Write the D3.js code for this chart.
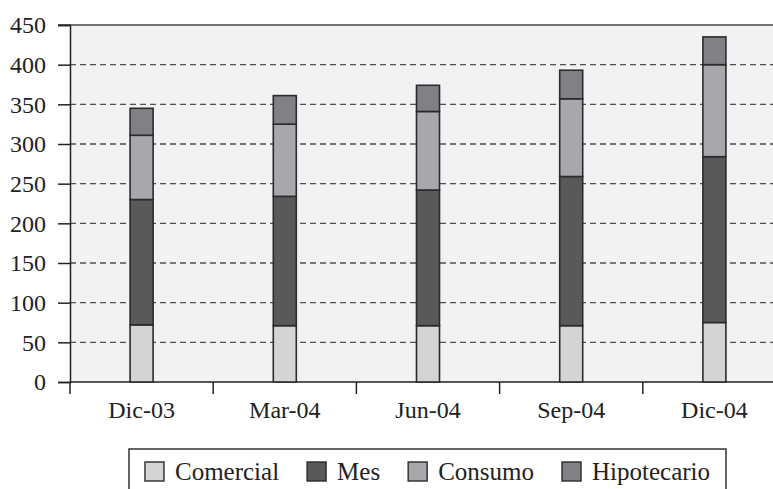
<!DOCTYPE html>
<html>
<head>
<meta charset="utf-8">
<script src="https://cdn.jsdelivr.net/npm/d3@7"></script>
<style>
  html, body { margin: 0; padding: 0; background: #ffffff; }
  svg { display: block; }
</style>
</head>
<body>
<script>
'use strict';

// chart data
const periods = ["Dic-03", "Mar-04", "Jun-04", "Sep-04", "Dic-04"];
const seriesNames = ["Comercial", "Mes", "Consumo", "Hipotecario"];
const comercial = [72, 71, 71, 71, 75];
const mes = [158, 163, 171, 188, 209];
const consumo = [81, 91, 99, 98, 116];
const hipotecario = [34, 36, 33, 36, 35];
const yTicks = [0, 50, 100, 150, 200, 250, 300, 350, 400, 450];

(function() {

  let svgContainer = "";
  const colors = ["#d3d4d6", "#58595b", "#a7a8ab", "#808184"];
  const font = "'Liberation Serif', 'Times New Roman', serif";

  window.onload = function() {
    svgContainer = d3.select('body')
      .append('svg')
      .attr('width', 773)
      .attr('height', 489);

    // build table for d3.stack
    let table = periods.map((p, i) => ({
      period: p,
      Comercial: comercial[i],
      Mes: mes[i],
      Consumo: consumo[i],
      Hipotecario: hipotecario[i]
    }));

    let map = drawAxes();
    plotData(table, map);
    makeLegend();
  }

  // background, gridlines and axes
  function drawAxes() {
    let xScale = d3.scaleBand()
      .domain(periods)
      .range([70, 786])
      .padding(0);

    let yScale = d3.scaleLinear()
      .domain([0, 450])
      .range([382, 25]);

    // plot area background
    svgContainer.append('rect')
      .attr('x', 70)
      .attr('y', yScale(450))
      .attr('width', 773 - 70)
      .attr('height', yScale(0) - yScale(450))
      .attr('fill', '#f1f2f4');

    // dashed gridlines
    svgContainer.append('g')
      .selectAll('line')
      .data(yTicks.filter((t) => t > 0 && t < 450))
      .enter()
      .append('line')
        .attr('x1', 70)
        .attr('x2', 773)
        .attr('y1', (d) => yScale(d))
        .attr('y2', (d) => yScale(d))
        .attr('stroke', '#505050')
        .attr('stroke-width', 1.3)
        .attr('stroke-dasharray', '6,4');

    // top border line
    svgContainer.append('line')
      .attr('x1', 58)
      .attr('x2', 773)
      .attr('y1', yScale(450))
      .attr('y2', yScale(450))
      .attr('stroke', '#444')
      .attr('stroke-width', 1.6);

    // y axis
    let yAxis = d3.axisLeft(yScale)
      .tickValues(yTicks)
      .tickSize(12)
      .tickPadding(12);
    let yG = svgContainer.append('g')
      .attr('transform', 'translate(70, 0)')
      .call(yAxis);
    yG.select('.domain').attr('stroke', '#222').attr('stroke-width', 1.5);
    yG.selectAll('.tick line').attr('stroke', '#222').attr('stroke-width', 1.5);
    yG.selectAll('.tick text')
      .attr('fill', '#222')
      .style('font-family', font)
      .style('font-size', '24px');

    // x axis with ticks between categories
    let xG = svgContainer.append('g')
      .attr('transform', 'translate(0, ' + yScale(0) + ')');
    xG.append('line')
      .attr('x1', 70)
      .attr('x2', 773)
      .attr('stroke', '#222')
      .attr('stroke-width', 1.5);
    xG.selectAll('.xtick')
      .data(periods)
      .enter()
      .append('line')
        .attr('class', 'xtick')
        .attr('x1', (d) => xScale(d))
        .attr('x2', (d) => xScale(d))
        .attr('y1', 0)
        .attr('y2', 12)
        .attr('stroke', '#222')
        .attr('stroke-width', 1.5);
    xG.selectAll('.xlabel')
      .data(periods)
      .enter()
      .append('text')
        .attr('class', 'xlabel')
        .attr('x', (d) => xScale(d) + xScale.bandwidth() / 2)
        .attr('y', 36)
        .attr('text-anchor', 'middle')
        .attr('fill', '#222')
        .style('font-family', font)
        .style('font-size', '24px')
        .text((d) => d);

    return { x: xScale, y: yScale };
  }

  // stacked bars
  function plotData(table, map) {
    let stack = d3.stack().keys(seriesNames);
    let layers = stack(table);
    let barWidth = 23;

    svgContainer.append('g')
      .selectAll('g')
      .data(layers)
      .enter()
      .append('g')
        .attr('fill', (d, i) => colors[i])
      .selectAll('rect')
      .data((d) => d)
      .enter()
      .append('rect')
        .attr('x', (d) => map.x(d.data.period) + map.x.bandwidth() / 2 - barWidth / 2)
        .attr('y', (d) => map.y(d[1]))
        .attr('width', barWidth)
        .attr('height', (d) => map.y(d[0]) - map.y(d[1]))
        .attr('stroke', '#2b2b2b')
        .attr('stroke-width', 1.6);
  }

  // legend box along the bottom
  function makeLegend() {
    svgContainer.append('rect')
      .attr('x', 129)
      .attr('y', 449)
      .attr('width', 597)
      .attr('height', 60)
      .attr('fill', '#ffffff')
      .attr('stroke', '#333')
      .attr('stroke-width', 1.5);

    let g = svgContainer.append('g');
    let items = g.selectAll('g')
      .data(seriesNames)
      .enter()
      .append('g');

    items.append('rect')
      .attr('width', 19)
      .attr('height', 19)
      .attr('y', 462)
      .attr('fill', (d, i) => colors[i])
      .attr('stroke', '#2b2b2b')
      .attr('stroke-width', 1.4);

    items.append('text')
      .attr('y', 480)
      .attr('fill', '#222')
      .style('font-family', font)
      .style('font-size', '25px')
      .text((d) => d);

    // lay items out side by side, centred in the box
    let gap = 28;
    let widths = [];
    items.each(function() {
      widths.push(d3.select(this).select('text').node().getComputedTextLength());
    });
    let total = d3.sum(widths) + seriesNames.length * 30 + (seriesNames.length - 1) * gap;
    let xPos = 129 + (597 - total) / 2;
    items.each(function(d, i) {
      let item = d3.select(this);
      item.select('rect').attr('x', xPos);
      item.select('text').attr('x', xPos + 30);
      xPos += 30 + widths[i] + gap;
    });
  }

})();
</script>
</body>
</html>
